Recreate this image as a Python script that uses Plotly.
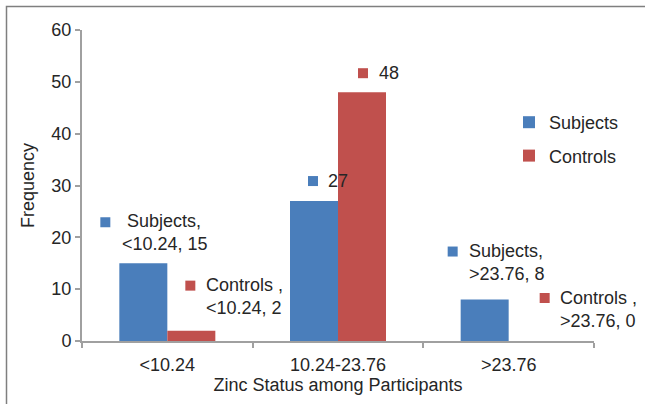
import plotly.graph_objects as go

# Zinc status categories and frequencies per group
categories = ["<10.24", "10.24-23.76", ">23.76"]
subjects = [15, 27, 8]
controls = [2, 48, 0]

series_names = ["Subjects", "Controls"]
label_names = ["Subjects,", "Controls ,"]
colors = ["#4a7ebb", "#c0504d"]
# middle category shows the value only
show_full_label = [True, False, True]

FONT = "Liberation Sans, Arial, sans-serif"
TEXT_COLOR = "#262626"
AXIS_COLOR = "#a0a0a0"
FS = 18
BARGAP = 0.4375

fig = go.Figure()
for name, vals, col in zip(series_names, [subjects, controls], colors):
    fig.add_trace(go.Bar(
        x=categories, y=vals, name=name, marker=dict(color=col, line=dict(width=0)),
        legendgroup=name,
    ))

# label placement (pixel offsets from each bar's top-centre):
# (square dx, square dy, text dx, text dy, leading pad)
label_offsets = [
    [(-38, 41, -23, 31, True), (-1, 20, 12, 20, False), (-32, 48, -18, 37, False)],
    [(-1, 45, 13, 34, False), (1, 19, 15, 19, False), (12, 43, 25, 32, False)],
]

bar_w = (1 - BARGAP) / 2
annotations = []
shapes = []
for s, vals in enumerate([subjects, controls]):
    for i, (cat, v) in enumerate(zip(categories, vals)):
        xc = i + (s - 0.5) * bar_w
        sqdx, sqdy, tdx, tdy, pad = label_offsets[s][i]
        shapes.append(dict(
            type="rect", xref="x", yref="y", xsizemode="pixel", ysizemode="pixel",
            xanchor=xc, yanchor=v, x0=sqdx - 5, x1=sqdx + 5, y0=sqdy - 5, y1=sqdy + 5,
            fillcolor=colors[s], line=dict(width=0),
        ))
        cat_txt = cat.replace("<", "&lt;").replace(">", "&gt;")
        if show_full_label[i]:
            first = ("\u00a0" if pad else "") + label_names[s]
            txt = f"{first}<br>{cat_txt}, {v}"
        else:
            txt = f"{v}"
        annotations.append(dict(
            x=xc, y=v, xref="x", yref="y", text=txt, showarrow=False,
            xanchor="left", yanchor="middle", align="left",
            xshift=tdx, yshift=tdy,
            font=dict(family=FONT, size=FS, color=TEXT_COLOR),
        ))

# outer frame of the chart area (open on the right and bottom)
L, R, T, B = 82, 51, 30, 63
W, H = 645, 404
pw, ph = W - L - R, H - T - B
shapes.append(dict(
    type="rect", xref="paper", yref="paper",
    x0=(6.5 - L) / pw, x1=(W + 10 - L) / pw,
    y0=(H - B - (H + 10)) / ph, y1=(H - B - 6.5) / ph,
    line=dict(color="#7f7f7f", width=1.5), fillcolor="rgba(0,0,0,0)", layer="below",
))

fig.update_layout(
    width=W, height=H,
    margin=dict(l=L, r=R, t=T, b=B),
    paper_bgcolor="white", plot_bgcolor="white",
    barmode="group", bargap=BARGAP, bargroupgap=0,
    font=dict(family=FONT, size=FS, color=TEXT_COLOR),
    shapes=shapes, annotations=annotations,
    showlegend=True,
    legend=dict(
        x=(509 - L) / pw, y=(H - B - 104) / ph, xanchor="left", yanchor="top",
        bgcolor="rgba(0,0,0,0)", font=dict(family=FONT, size=FS, color=TEXT_COLOR),
        tracegroupgap=7, traceorder="grouped", itemwidth=30,
    ),
    xaxis=dict(
        type="category", tickson="boundaries", ticks="outside", ticklen=5,
        tickcolor=AXIS_COLOR, tickwidth=2,
        showline=True, linecolor=AXIS_COLOR, linewidth=2, showgrid=False,
        range=[-0.5, 2.5], ticklabelstandoff=6,
        title=dict(text="Zinc Status among Participants", standoff=4,
                   font=dict(family=FONT, size=FS, color=TEXT_COLOR)),
        tickfont=dict(family=FONT, size=FS, color=TEXT_COLOR),
    ),
    yaxis=dict(
        range=[0, 60], dtick=10, ticks="outside", ticklen=5,
        tickcolor=AXIS_COLOR, tickwidth=2,
        showline=True, linecolor=AXIS_COLOR, linewidth=2, showgrid=False, zeroline=False,
        title=dict(text="Frequency", standoff=12,
                   font=dict(family=FONT, size=FS, color=TEXT_COLOR)),
        tickfont=dict(family=FONT, size=FS, color=TEXT_COLOR),
    ),
)

fig.write_html("out.html")
